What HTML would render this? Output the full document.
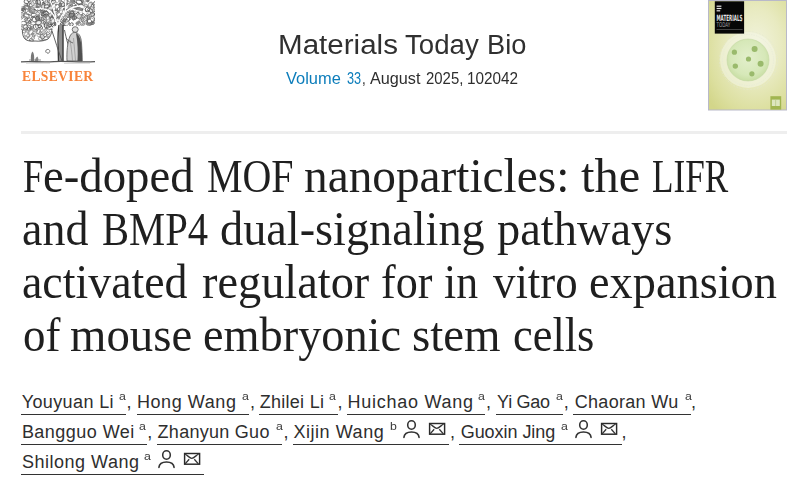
<!DOCTYPE html>
<html lang="en"><head><meta charset="utf-8"><title>Fe-doped MOF nanoparticles: the LIFR and BMP4 dual-signaling pathways activated regulator</title>
<style>
html,body{margin:0;padding:0;background:#fff;}
body{width:798px;height:482px;overflow:hidden;position:relative;font-family:"Liberation Sans",sans-serif;color:#2e2e2e;}
.abs,.an,.sp,.ul,.ic,.tl,#logo,#cover{position:absolute;white-space:nowrap;}
#logo{left:20px;top:0;}
#els{left:21.50px;top:68.27px;font-family:"Liberation Serif",serif;font-size:15.2px;color:#f8843b;letter-spacing:0.4px;font-weight:bold;line-height:1;transform-origin:0 0;transform:scaleX(0.8928);}
.jt,.vol{position:absolute;white-space:nowrap;transform-origin:0 0;line-height:1;}
.jt{font-size:27px;color:#303030;}
.vol{font-size:16px;color:#2e2e2e;}
.vol.lk{color:#0c7dbb;}
#cover{left:708px;top:0px;}
#sep{left:21px;top:131px;width:766px;height:3px;background:#eeeeee;}
.tl{transform-origin:0 0;font-family:"Liberation Serif",serif;font-size:47px;line-height:1;color:#1f1f1f;}
.an{font-size:18px;line-height:1;color:#2e2e2e;}
.sp{font-size:11px;line-height:1;color:#3a3a3a;transform-origin:0 0;transform:scaleX(1.12);}
.ul{display:block;height:1.6px;background:#333;}
.ic{overflow:visible;}
</style></head><body>
<svg id="logo" width="78" height="66" viewBox="0 0 78 66">
<defs><clipPath id="cp"><path d="M1.5 0 L75 0 L75 21 C75 24 72.5 25.5 69 25.5 L50 26 C46 26 42 25.5 38 25 C35 25.5 33 27 32 29 L1.5 30 Z"/></clipPath><clipPath id="cl"><path d="M2.5 29 C2 33 3 37 5 39 C7 41 11 41.5 15 41 C19 41.5 24 41 27 39.5 C30 38 31.5 34 32 29 Z"/></clipPath></defs>
<path d="M2.5 29 C2 33 3 37 5 39 C7 41 11 41.5 15 41 C19 41.5 24 41 27 39.5 C30 38 31.5 34 32 29 Z" fill="#fff"/>
<g clip-path="url(#cl)"><ellipse cx="7.3" cy="31.4" rx="2.1" ry="1.6" transform="rotate(85 7.3 31.4)" fill="#eeeeee" stroke="#888" stroke-width="0.56"/><ellipse cx="28.5" cy="40.3" rx="1.7" ry="1.1" transform="rotate(41 28.5 40.3)" fill="#ffffff" stroke="#888" stroke-width="0.76"/><ellipse cx="24.4" cy="39.0" rx="2.2" ry="1.7" transform="rotate(4 24.4 39.0)" fill="#ffffff" stroke="#6a6a6a" stroke-width="0.68"/><ellipse cx="24.9" cy="35.4" rx="2.0" ry="1.3" transform="rotate(143 24.9 35.4)" fill="#ffffff" stroke="#6a6a6a" stroke-width="0.77"/><ellipse cx="20.4" cy="36.2" rx="1.5" ry="0.9" transform="rotate(122 20.4 36.2)" fill="#d0d0d0" stroke="#5a5a5a" stroke-width="0.73"/><ellipse cx="8.6" cy="29.3" rx="1.7" ry="0.9" transform="rotate(166 8.6 29.3)" fill="#eeeeee" stroke="#6a6a6a" stroke-width="0.50"/><ellipse cx="12.9" cy="34.4" rx="1.6" ry="1.0" transform="rotate(29 12.9 34.4)" fill="#d0d0d0" stroke="#5a5a5a" stroke-width="0.70"/><ellipse cx="7.7" cy="36.1" rx="2.5" ry="1.9" transform="rotate(144 7.7 36.1)" fill="#ffffff" stroke="#6a6a6a" stroke-width="0.62"/><ellipse cx="13.7" cy="35.6" rx="2.0" ry="1.3" transform="rotate(96 13.7 35.6)" fill="#eeeeee" stroke="#5a5a5a" stroke-width="0.51"/><ellipse cx="11.0" cy="29.4" rx="2.4" ry="1.7" transform="rotate(51 11.0 29.4)" fill="#eeeeee" stroke="#5a5a5a" stroke-width="0.76"/><ellipse cx="27.1" cy="37.9" rx="2.2" ry="1.6" transform="rotate(82 27.1 37.9)" fill="#ffffff" stroke="#6a6a6a" stroke-width="0.76"/><ellipse cx="31.7" cy="40.9" rx="2.4" ry="1.4" transform="rotate(44 31.7 40.9)" fill="#d0d0d0" stroke="#6a6a6a" stroke-width="0.65"/><ellipse cx="11.3" cy="40.2" rx="2.0" ry="1.6" transform="rotate(14 11.3 40.2)" fill="#ffffff" stroke="#5a5a5a" stroke-width="0.76"/><ellipse cx="26.0" cy="38.3" rx="2.3" ry="1.5" transform="rotate(178 26.0 38.3)" fill="#ffffff" stroke="#6a6a6a" stroke-width="0.67"/><ellipse cx="7.2" cy="35.0" rx="2.5" ry="1.8" transform="rotate(39 7.2 35.0)" fill="#eeeeee" stroke="#6a6a6a" stroke-width="0.80"/><ellipse cx="29.7" cy="37.0" rx="1.4" ry="1.0" transform="rotate(166 29.7 37.0)" fill="#ffffff" stroke="#888" stroke-width="0.57"/><ellipse cx="11.3" cy="31.3" rx="2.5" ry="1.7" transform="rotate(176 11.3 31.3)" fill="#eeeeee" stroke="#5a5a5a" stroke-width="0.56"/><ellipse cx="25.9" cy="31.9" rx="1.6" ry="1.0" transform="rotate(131 25.9 31.9)" fill="#ffffff" stroke="#888" stroke-width="0.74"/><ellipse cx="21.0" cy="38.6" rx="2.5" ry="1.8" transform="rotate(177 21.0 38.6)" fill="#ffffff" stroke="#6a6a6a" stroke-width="0.60"/><ellipse cx="5.5" cy="29.1" rx="2.2" ry="1.7" transform="rotate(55 5.5 29.1)" fill="#eeeeee" stroke="#888" stroke-width="0.62"/><ellipse cx="21.4" cy="34.4" rx="2.2" ry="1.2" transform="rotate(106 21.4 34.4)" fill="#ffffff" stroke="#6a6a6a" stroke-width="0.70"/><ellipse cx="4.0" cy="31.4" rx="1.7" ry="1.0" transform="rotate(152 4.0 31.4)" fill="#ffffff" stroke="#888" stroke-width="0.79"/><ellipse cx="22.1" cy="37.2" rx="1.9" ry="1.4" transform="rotate(89 22.1 37.2)" fill="#d0d0d0" stroke="#5a5a5a" stroke-width="0.65"/><ellipse cx="13.5" cy="35.9" rx="1.5" ry="0.8" transform="rotate(177 13.5 35.9)" fill="#eeeeee" stroke="#6a6a6a" stroke-width="0.62"/><ellipse cx="30.3" cy="37.4" rx="2.1" ry="1.3" transform="rotate(2 30.3 37.4)" fill="#ffffff" stroke="#888" stroke-width="0.63"/><ellipse cx="16.5" cy="29.6" rx="2.1" ry="1.6" transform="rotate(23 16.5 29.6)" fill="#d0d0d0" stroke="#6a6a6a" stroke-width="0.57"/><ellipse cx="15.1" cy="33.9" rx="1.6" ry="1.0" transform="rotate(158 15.1 33.9)" fill="#ffffff" stroke="#6a6a6a" stroke-width="0.54"/><ellipse cx="6.9" cy="29.5" rx="1.4" ry="1.1" transform="rotate(69 6.9 29.5)" fill="#ffffff" stroke="#5a5a5a" stroke-width="0.54"/><ellipse cx="12.3" cy="41.9" rx="2.4" ry="1.7" transform="rotate(41 12.3 41.9)" fill="#ffffff" stroke="#5a5a5a" stroke-width="0.64"/><ellipse cx="15.1" cy="30.0" rx="2.0" ry="1.2" transform="rotate(149 15.1 30.0)" fill="#d0d0d0" stroke="#6a6a6a" stroke-width="0.54"/><ellipse cx="19.0" cy="35.6" rx="1.9" ry="1.2" transform="rotate(7 19.0 35.6)" fill="#ffffff" stroke="#888" stroke-width="0.56"/><ellipse cx="12.1" cy="29.1" rx="2.5" ry="1.7" transform="rotate(71 12.1 29.1)" fill="#eeeeee" stroke="#888" stroke-width="0.78"/><ellipse cx="6.0" cy="34.0" rx="2.2" ry="1.4" transform="rotate(127 6.0 34.0)" fill="#ffffff" stroke="#888" stroke-width="0.58"/><ellipse cx="10.9" cy="32.2" rx="2.6" ry="1.5" transform="rotate(132 10.9 32.2)" fill="#ffffff" stroke="#888" stroke-width="0.69"/><ellipse cx="28.0" cy="33.4" rx="1.7" ry="1.2" transform="rotate(22 28.0 33.4)" fill="#eeeeee" stroke="#6a6a6a" stroke-width="0.68"/><ellipse cx="22.3" cy="36.5" rx="2.5" ry="1.9" transform="rotate(50 22.3 36.5)" fill="#d0d0d0" stroke="#5a5a5a" stroke-width="0.70"/><ellipse cx="30.8" cy="30.9" rx="1.9" ry="1.3" transform="rotate(24 30.8 30.9)" fill="#ffffff" stroke="#888" stroke-width="0.63"/><ellipse cx="19.4" cy="31.7" rx="2.5" ry="1.6" transform="rotate(48 19.4 31.7)" fill="#ffffff" stroke="#888" stroke-width="0.58"/><ellipse cx="13.0" cy="38.0" rx="1.6" ry="1.2" transform="rotate(36 13.0 38.0)" fill="#eeeeee" stroke="#888" stroke-width="0.72"/><ellipse cx="5.5" cy="37.9" rx="2.2" ry="1.5" transform="rotate(84 5.5 37.9)" fill="#ffffff" stroke="#888" stroke-width="0.52"/><ellipse cx="23.5" cy="32.0" rx="2.0" ry="1.4" transform="rotate(154 23.5 32.0)" fill="#d0d0d0" stroke="#888" stroke-width="0.58"/><ellipse cx="18.9" cy="32.1" rx="2.3" ry="1.7" transform="rotate(97 18.9 32.1)" fill="#ffffff" stroke="#888" stroke-width="0.77"/><ellipse cx="21.7" cy="41.5" rx="1.6" ry="1.1" transform="rotate(123 21.7 41.5)" fill="#d0d0d0" stroke="#6a6a6a" stroke-width="0.75"/><ellipse cx="18.4" cy="31.5" rx="2.2" ry="1.4" transform="rotate(116 18.4 31.5)" fill="#ffffff" stroke="#6a6a6a" stroke-width="0.78"/><ellipse cx="6.2" cy="37.8" rx="1.7" ry="1.0" transform="rotate(82 6.2 37.8)" fill="#ffffff" stroke="#6a6a6a" stroke-width="0.52"/></g>
<path d="M2.5 29 C2 33 3 37 5 39 C7 41 11 41.5 15 41 C19 41.5 24 41 27 39.5 C30 38 31.5 34 32 29 Z" fill="none" stroke="#555" stroke-width="0.9"/>
<g clip-path="url(#cp)"><rect x="0" y="0" width="78" height="32" fill="#fff"/><ellipse cx="34.4" cy="16.9" rx="2.7" ry="1.8" transform="rotate(91 34.4 16.9)" fill="#ffffff" stroke="#808080" stroke-width="0.56"/><ellipse cx="38.9" cy="19.2" rx="2.5" ry="1.4" transform="rotate(55 38.9 19.2)" fill="#b8b8b8" stroke="#3a3a3a" stroke-width="0.74"/><ellipse cx="52.7" cy="0.3" rx="2.8" ry="2.2" transform="rotate(118 52.7 0.3)" fill="#8c8c8c" stroke="#808080" stroke-width="0.55"/><ellipse cx="1.1" cy="15.9" rx="1.4" ry="0.8" transform="rotate(44 1.1 15.9)" fill="#dcdcdc" stroke="#3a3a3a" stroke-width="0.60"/><ellipse cx="44.9" cy="5.3" rx="1.7" ry="1.0" transform="rotate(1 44.9 5.3)" fill="#dcdcdc" stroke="#3a3a3a" stroke-width="0.70"/><ellipse cx="30.9" cy="16.6" rx="2.7" ry="1.5" transform="rotate(46 30.9 16.6)" fill="#b8b8b8" stroke="#4a4a4a" stroke-width="0.59"/><ellipse cx="5.3" cy="23.5" rx="1.9" ry="1.4" transform="rotate(70 5.3 23.5)" fill="#8c8c8c" stroke="#3a3a3a" stroke-width="0.50"/><ellipse cx="15.9" cy="28.1" rx="2.0" ry="1.6" transform="rotate(72 15.9 28.1)" fill="#b8b8b8" stroke="#3a3a3a" stroke-width="0.69"/><ellipse cx="59.2" cy="7.6" rx="1.4" ry="0.9" transform="rotate(174 59.2 7.6)" fill="#ffffff" stroke="#3a3a3a" stroke-width="0.57"/><ellipse cx="7.7" cy="0.9" rx="2.5" ry="1.5" transform="rotate(101 7.7 0.9)" fill="#b8b8b8" stroke="#6a6a6a" stroke-width="0.56"/><ellipse cx="55.6" cy="3.2" rx="2.3" ry="1.3" transform="rotate(76 55.6 3.2)" fill="#ffffff" stroke="#4a4a4a" stroke-width="0.58"/><ellipse cx="73.8" cy="24.7" rx="1.8" ry="1.4" transform="rotate(38 73.8 24.7)" fill="#b8b8b8" stroke="#6a6a6a" stroke-width="0.69"/><ellipse cx="7.6" cy="30.7" rx="1.6" ry="1.0" transform="rotate(139 7.6 30.7)" fill="#f0f0f0" stroke="#5a5a5a" stroke-width="0.62"/><ellipse cx="5.6" cy="5.7" rx="2.3" ry="1.2" transform="rotate(66 5.6 5.7)" fill="#dcdcdc" stroke="#808080" stroke-width="0.54"/><ellipse cx="44.6" cy="25.6" rx="1.5" ry="1.0" transform="rotate(113 44.6 25.6)" fill="#ffffff" stroke="#5a5a5a" stroke-width="0.75"/><ellipse cx="19.0" cy="5.1" rx="2.4" ry="1.9" transform="rotate(35 19.0 5.1)" fill="#dcdcdc" stroke="#6a6a6a" stroke-width="0.68"/><ellipse cx="32.0" cy="2.3" rx="1.4" ry="1.1" transform="rotate(43 32.0 2.3)" fill="#f0f0f0" stroke="#6a6a6a" stroke-width="0.63"/><ellipse cx="68.8" cy="14.7" rx="2.1" ry="1.6" transform="rotate(176 68.8 14.7)" fill="#ffffff" stroke="#4a4a4a" stroke-width="0.64"/><ellipse cx="49.7" cy="18.7" rx="1.4" ry="0.9" transform="rotate(165 49.7 18.7)" fill="#ffffff" stroke="#3a3a3a" stroke-width="0.58"/><ellipse cx="33.9" cy="0.9" rx="1.6" ry="1.0" transform="rotate(103 33.9 0.9)" fill="#ffffff" stroke="#4a4a4a" stroke-width="0.61"/><ellipse cx="67.7" cy="30.4" rx="2.3" ry="1.7" transform="rotate(105 67.7 30.4)" fill="#b8b8b8" stroke="#4a4a4a" stroke-width="0.51"/><ellipse cx="1.4" cy="28.1" rx="2.4" ry="1.9" transform="rotate(4 1.4 28.1)" fill="#dcdcdc" stroke="#3a3a3a" stroke-width="0.52"/><ellipse cx="23.6" cy="3.4" rx="1.4" ry="0.9" transform="rotate(66 23.6 3.4)" fill="#8c8c8c" stroke="#3a3a3a" stroke-width="0.72"/><ellipse cx="9.8" cy="29.8" rx="1.8" ry="1.0" transform="rotate(85 9.8 29.8)" fill="#dcdcdc" stroke="#3a3a3a" stroke-width="0.78"/><ellipse cx="2.3" cy="15.0" rx="1.3" ry="0.9" transform="rotate(68 2.3 15.0)" fill="#b8b8b8" stroke="#3a3a3a" stroke-width="0.52"/><ellipse cx="6.9" cy="2.7" rx="1.7" ry="1.1" transform="rotate(59 6.9 2.7)" fill="#dcdcdc" stroke="#808080" stroke-width="0.63"/><ellipse cx="63.7" cy="1.7" rx="2.4" ry="1.4" transform="rotate(108 63.7 1.7)" fill="#ffffff" stroke="#6a6a6a" stroke-width="0.57"/><ellipse cx="53.1" cy="14.9" rx="2.2" ry="1.7" transform="rotate(46 53.1 14.9)" fill="#f0f0f0" stroke="#3a3a3a" stroke-width="0.59"/><ellipse cx="51.5" cy="5.5" rx="1.6" ry="1.2" transform="rotate(119 51.5 5.5)" fill="#dcdcdc" stroke="#6a6a6a" stroke-width="0.77"/><ellipse cx="24.8" cy="20.3" rx="1.6" ry="1.1" transform="rotate(145 24.8 20.3)" fill="#ffffff" stroke="#4a4a4a" stroke-width="0.62"/><ellipse cx="44.3" cy="9.1" rx="1.5" ry="1.0" transform="rotate(151 44.3 9.1)" fill="#8c8c8c" stroke="#3a3a3a" stroke-width="0.52"/><ellipse cx="74.5" cy="25.3" rx="1.5" ry="1.0" transform="rotate(167 74.5 25.3)" fill="#dcdcdc" stroke="#6a6a6a" stroke-width="0.69"/><ellipse cx="37.5" cy="9.1" rx="2.6" ry="2.0" transform="rotate(81 37.5 9.1)" fill="#ffffff" stroke="#3a3a3a" stroke-width="0.58"/><ellipse cx="46.2" cy="20.7" rx="1.7" ry="1.1" transform="rotate(117 46.2 20.7)" fill="#ffffff" stroke="#808080" stroke-width="0.69"/><ellipse cx="30.8" cy="5.1" rx="2.5" ry="1.5" transform="rotate(140 30.8 5.1)" fill="#8c8c8c" stroke="#3a3a3a" stroke-width="0.53"/><ellipse cx="8.3" cy="16.1" rx="2.3" ry="1.5" transform="rotate(14 8.3 16.1)" fill="#ffffff" stroke="#4a4a4a" stroke-width="0.75"/><ellipse cx="19.5" cy="21.9" rx="2.4" ry="1.7" transform="rotate(7 19.5 21.9)" fill="#f0f0f0" stroke="#4a4a4a" stroke-width="0.73"/><ellipse cx="41.0" cy="29.3" rx="2.1" ry="1.6" transform="rotate(29 41.0 29.3)" fill="#ffffff" stroke="#4a4a4a" stroke-width="0.62"/><ellipse cx="67.8" cy="11.4" rx="2.0" ry="1.2" transform="rotate(160 67.8 11.4)" fill="#dcdcdc" stroke="#3a3a3a" stroke-width="0.67"/><ellipse cx="49.6" cy="15.1" rx="2.5" ry="1.6" transform="rotate(59 49.6 15.1)" fill="#ffffff" stroke="#4a4a4a" stroke-width="0.72"/><ellipse cx="62.2" cy="19.5" rx="2.4" ry="1.4" transform="rotate(162 62.2 19.5)" fill="#f0f0f0" stroke="#3a3a3a" stroke-width="0.66"/><ellipse cx="60.1" cy="9.3" rx="2.7" ry="2.0" transform="rotate(63 60.1 9.3)" fill="#ffffff" stroke="#3a3a3a" stroke-width="0.63"/><ellipse cx="41.8" cy="23.6" rx="2.0" ry="1.1" transform="rotate(146 41.8 23.6)" fill="#dcdcdc" stroke="#3a3a3a" stroke-width="0.74"/><ellipse cx="13.1" cy="9.7" rx="2.5" ry="1.5" transform="rotate(27 13.1 9.7)" fill="#8c8c8c" stroke="#808080" stroke-width="0.66"/><ellipse cx="51.5" cy="13.1" rx="2.6" ry="1.8" transform="rotate(124 51.5 13.1)" fill="#dcdcdc" stroke="#4a4a4a" stroke-width="0.66"/><ellipse cx="22.1" cy="22.3" rx="2.3" ry="1.5" transform="rotate(152 22.1 22.3)" fill="#f0f0f0" stroke="#808080" stroke-width="0.59"/><ellipse cx="29.0" cy="26.0" rx="2.7" ry="1.6" transform="rotate(153 29.0 26.0)" fill="#b8b8b8" stroke="#808080" stroke-width="0.58"/><ellipse cx="37.8" cy="12.2" rx="1.5" ry="0.8" transform="rotate(68 37.8 12.2)" fill="#ffffff" stroke="#808080" stroke-width="0.65"/><ellipse cx="30.4" cy="24.6" rx="2.1" ry="1.4" transform="rotate(124 30.4 24.6)" fill="#b8b8b8" stroke="#3a3a3a" stroke-width="0.64"/><ellipse cx="70.0" cy="24.6" rx="1.9" ry="1.2" transform="rotate(89 70.0 24.6)" fill="#dcdcdc" stroke="#5a5a5a" stroke-width="0.77"/><ellipse cx="71.1" cy="28.4" rx="2.1" ry="1.2" transform="rotate(76 71.1 28.4)" fill="#f0f0f0" stroke="#3a3a3a" stroke-width="0.54"/><ellipse cx="59.2" cy="-0.3" rx="1.6" ry="1.0" transform="rotate(124 59.2 -0.3)" fill="#8c8c8c" stroke="#5a5a5a" stroke-width="0.61"/><ellipse cx="47.1" cy="2.4" rx="2.4" ry="1.4" transform="rotate(92 47.1 2.4)" fill="#8c8c8c" stroke="#5a5a5a" stroke-width="0.56"/><ellipse cx="40.3" cy="13.0" rx="1.9" ry="1.2" transform="rotate(95 40.3 13.0)" fill="#b8b8b8" stroke="#4a4a4a" stroke-width="0.56"/><ellipse cx="48.0" cy="19.4" rx="2.1" ry="1.6" transform="rotate(110 48.0 19.4)" fill="#ffffff" stroke="#4a4a4a" stroke-width="0.77"/><ellipse cx="47.7" cy="10.1" rx="1.6" ry="1.1" transform="rotate(160 47.7 10.1)" fill="#ffffff" stroke="#4a4a4a" stroke-width="0.73"/><ellipse cx="14.8" cy="2.1" rx="2.6" ry="1.5" transform="rotate(16 14.8 2.1)" fill="#ffffff" stroke="#6a6a6a" stroke-width="0.63"/><ellipse cx="71.5" cy="16.4" rx="2.4" ry="1.4" transform="rotate(113 71.5 16.4)" fill="#ffffff" stroke="#3a3a3a" stroke-width="0.56"/><ellipse cx="51.9" cy="28.2" rx="2.8" ry="1.6" transform="rotate(91 51.9 28.2)" fill="#b8b8b8" stroke="#5a5a5a" stroke-width="0.80"/><ellipse cx="63.3" cy="24.7" rx="2.0" ry="1.1" transform="rotate(137 63.3 24.7)" fill="#b8b8b8" stroke="#808080" stroke-width="0.77"/><ellipse cx="36.6" cy="5.1" rx="1.5" ry="0.9" transform="rotate(28 36.6 5.1)" fill="#8c8c8c" stroke="#5a5a5a" stroke-width="0.53"/><ellipse cx="4.7" cy="29.4" rx="2.0" ry="1.5" transform="rotate(59 4.7 29.4)" fill="#dcdcdc" stroke="#6a6a6a" stroke-width="0.65"/><ellipse cx="32.7" cy="18.2" rx="1.3" ry="1.0" transform="rotate(152 32.7 18.2)" fill="#dcdcdc" stroke="#4a4a4a" stroke-width="0.64"/><ellipse cx="56.2" cy="12.0" rx="1.6" ry="0.9" transform="rotate(92 56.2 12.0)" fill="#f0f0f0" stroke="#3a3a3a" stroke-width="0.77"/><ellipse cx="60.9" cy="21.5" rx="2.6" ry="1.8" transform="rotate(73 60.9 21.5)" fill="#ffffff" stroke="#808080" stroke-width="0.65"/><ellipse cx="74.7" cy="24.8" rx="1.7" ry="1.3" transform="rotate(134 74.7 24.8)" fill="#dcdcdc" stroke="#4a4a4a" stroke-width="0.54"/><ellipse cx="25.1" cy="16.2" rx="1.9" ry="1.2" transform="rotate(33 25.1 16.2)" fill="#8c8c8c" stroke="#4a4a4a" stroke-width="0.56"/><ellipse cx="60.6" cy="8.7" rx="1.5" ry="1.1" transform="rotate(178 60.6 8.7)" fill="#ffffff" stroke="#808080" stroke-width="0.57"/><ellipse cx="71.8" cy="20.3" rx="1.8" ry="1.3" transform="rotate(103 71.8 20.3)" fill="#ffffff" stroke="#808080" stroke-width="0.62"/><ellipse cx="76.0" cy="19.6" rx="2.4" ry="1.7" transform="rotate(176 76.0 19.6)" fill="#ffffff" stroke="#3a3a3a" stroke-width="0.68"/><ellipse cx="56.1" cy="7.2" rx="1.9" ry="1.1" transform="rotate(35 56.1 7.2)" fill="#ffffff" stroke="#6a6a6a" stroke-width="0.53"/><ellipse cx="19.1" cy="28.0" rx="2.1" ry="1.4" transform="rotate(174 19.1 28.0)" fill="#ffffff" stroke="#808080" stroke-width="0.69"/><ellipse cx="61.5" cy="1.4" rx="2.2" ry="1.6" transform="rotate(8 61.5 1.4)" fill="#dcdcdc" stroke="#4a4a4a" stroke-width="0.64"/><ellipse cx="12.9" cy="14.9" rx="2.2" ry="1.3" transform="rotate(170 12.9 14.9)" fill="#f0f0f0" stroke="#6a6a6a" stroke-width="0.66"/><ellipse cx="45.4" cy="10.7" rx="1.7" ry="1.2" transform="rotate(101 45.4 10.7)" fill="#8c8c8c" stroke="#5a5a5a" stroke-width="0.71"/><ellipse cx="22.5" cy="-0.6" rx="1.7" ry="0.9" transform="rotate(28 22.5 -0.6)" fill="#ffffff" stroke="#6a6a6a" stroke-width="0.77"/><ellipse cx="56.9" cy="0.6" rx="2.8" ry="2.2" transform="rotate(13 56.9 0.6)" fill="#dcdcdc" stroke="#4a4a4a" stroke-width="0.72"/><ellipse cx="19.1" cy="23.2" rx="1.4" ry="0.8" transform="rotate(146 19.1 23.2)" fill="#ffffff" stroke="#6a6a6a" stroke-width="0.79"/><ellipse cx="62.1" cy="18.3" rx="1.5" ry="1.0" transform="rotate(82 62.1 18.3)" fill="#ffffff" stroke="#4a4a4a" stroke-width="0.61"/><ellipse cx="11.8" cy="10.6" rx="1.5" ry="1.0" transform="rotate(108 11.8 10.6)" fill="#8c8c8c" stroke="#808080" stroke-width="0.63"/><ellipse cx="59.1" cy="16.0" rx="2.8" ry="2.2" transform="rotate(132 59.1 16.0)" fill="#dcdcdc" stroke="#4a4a4a" stroke-width="0.53"/><ellipse cx="67.8" cy="24.1" rx="2.2" ry="1.4" transform="rotate(49 67.8 24.1)" fill="#8c8c8c" stroke="#808080" stroke-width="0.68"/><ellipse cx="48.1" cy="23.1" rx="1.6" ry="1.0" transform="rotate(176 48.1 23.1)" fill="#8c8c8c" stroke="#4a4a4a" stroke-width="0.51"/><ellipse cx="4.6" cy="7.7" rx="1.9" ry="1.4" transform="rotate(18 4.6 7.7)" fill="#f0f0f0" stroke="#808080" stroke-width="0.52"/><ellipse cx="6.6" cy="20.6" rx="2.1" ry="1.5" transform="rotate(67 6.6 20.6)" fill="#f0f0f0" stroke="#6a6a6a" stroke-width="0.56"/><ellipse cx="26.1" cy="22.8" rx="2.6" ry="1.5" transform="rotate(22 26.1 22.8)" fill="#ffffff" stroke="#808080" stroke-width="0.63"/><ellipse cx="56.8" cy="11.5" rx="1.5" ry="0.9" transform="rotate(151 56.8 11.5)" fill="#f0f0f0" stroke="#808080" stroke-width="0.59"/><ellipse cx="57.7" cy="25.4" rx="1.6" ry="1.1" transform="rotate(105 57.7 25.4)" fill="#f0f0f0" stroke="#6a6a6a" stroke-width="0.52"/><ellipse cx="6.3" cy="17.1" rx="2.0" ry="1.5" transform="rotate(54 6.3 17.1)" fill="#ffffff" stroke="#3a3a3a" stroke-width="0.59"/><ellipse cx="69.2" cy="18.3" rx="2.3" ry="1.6" transform="rotate(138 69.2 18.3)" fill="#f0f0f0" stroke="#5a5a5a" stroke-width="0.76"/><ellipse cx="16.6" cy="20.0" rx="1.8" ry="1.4" transform="rotate(58 16.6 20.0)" fill="#b8b8b8" stroke="#6a6a6a" stroke-width="0.68"/><ellipse cx="68.6" cy="21.0" rx="1.7" ry="1.2" transform="rotate(179 68.6 21.0)" fill="#f0f0f0" stroke="#6a6a6a" stroke-width="0.57"/><ellipse cx="73.6" cy="22.4" rx="2.1" ry="1.2" transform="rotate(149 73.6 22.4)" fill="#f0f0f0" stroke="#3a3a3a" stroke-width="0.70"/><ellipse cx="44.4" cy="24.5" rx="2.4" ry="1.5" transform="rotate(70 44.4 24.5)" fill="#b8b8b8" stroke="#4a4a4a" stroke-width="0.67"/><ellipse cx="13.4" cy="23.3" rx="2.6" ry="1.6" transform="rotate(4 13.4 23.3)" fill="#ffffff" stroke="#808080" stroke-width="0.66"/><ellipse cx="43.1" cy="29.9" rx="2.3" ry="1.7" transform="rotate(12 43.1 29.9)" fill="#f0f0f0" stroke="#808080" stroke-width="0.74"/><ellipse cx="6.4" cy="1.6" rx="2.4" ry="1.9" transform="rotate(15 6.4 1.6)" fill="#ffffff" stroke="#4a4a4a" stroke-width="0.72"/><ellipse cx="49.3" cy="6.9" rx="1.6" ry="1.2" transform="rotate(94 49.3 6.9)" fill="#dcdcdc" stroke="#6a6a6a" stroke-width="0.61"/><ellipse cx="61.4" cy="9.7" rx="1.5" ry="1.0" transform="rotate(145 61.4 9.7)" fill="#8c8c8c" stroke="#3a3a3a" stroke-width="0.69"/><ellipse cx="3.5" cy="23.2" rx="2.8" ry="1.8" transform="rotate(1 3.5 23.2)" fill="#ffffff" stroke="#6a6a6a" stroke-width="0.77"/><ellipse cx="72.8" cy="19.5" rx="2.1" ry="1.5" transform="rotate(144 72.8 19.5)" fill="#dcdcdc" stroke="#6a6a6a" stroke-width="0.77"/><ellipse cx="18.7" cy="4.2" rx="2.3" ry="1.6" transform="rotate(58 18.7 4.2)" fill="#dcdcdc" stroke="#6a6a6a" stroke-width="0.66"/><ellipse cx="20.8" cy="27.4" rx="2.0" ry="1.5" transform="rotate(55 20.8 27.4)" fill="#ffffff" stroke="#4a4a4a" stroke-width="0.77"/><ellipse cx="57.2" cy="-0.5" rx="2.0" ry="1.5" transform="rotate(56 57.2 -0.5)" fill="#ffffff" stroke="#4a4a4a" stroke-width="0.61"/><ellipse cx="44.7" cy="18.2" rx="2.0" ry="1.4" transform="rotate(80 44.7 18.2)" fill="#dcdcdc" stroke="#5a5a5a" stroke-width="0.55"/><ellipse cx="57.6" cy="9.0" rx="2.1" ry="1.6" transform="rotate(86 57.6 9.0)" fill="#dcdcdc" stroke="#5a5a5a" stroke-width="0.77"/><ellipse cx="69.5" cy="9.9" rx="2.1" ry="1.7" transform="rotate(87 69.5 9.9)" fill="#dcdcdc" stroke="#4a4a4a" stroke-width="0.51"/><ellipse cx="72.0" cy="24.6" rx="1.9" ry="1.3" transform="rotate(93 72.0 24.6)" fill="#ffffff" stroke="#5a5a5a" stroke-width="0.70"/><ellipse cx="18.1" cy="-0.7" rx="2.0" ry="1.3" transform="rotate(143 18.1 -0.7)" fill="#b8b8b8" stroke="#6a6a6a" stroke-width="0.76"/><ellipse cx="31.6" cy="23.7" rx="1.5" ry="1.2" transform="rotate(146 31.6 23.7)" fill="#8c8c8c" stroke="#4a4a4a" stroke-width="0.72"/><ellipse cx="47.1" cy="15.5" rx="1.4" ry="1.0" transform="rotate(32 47.1 15.5)" fill="#ffffff" stroke="#4a4a4a" stroke-width="0.75"/><ellipse cx="6.3" cy="7.6" rx="2.4" ry="1.4" transform="rotate(86 6.3 7.6)" fill="#ffffff" stroke="#6a6a6a" stroke-width="0.79"/><ellipse cx="44.6" cy="26.4" rx="1.8" ry="1.3" transform="rotate(75 44.6 26.4)" fill="#dcdcdc" stroke="#3a3a3a" stroke-width="0.56"/><ellipse cx="41.3" cy="15.8" rx="1.5" ry="1.2" transform="rotate(56 41.3 15.8)" fill="#dcdcdc" stroke="#5a5a5a" stroke-width="0.52"/><ellipse cx="23.2" cy="14.0" rx="2.4" ry="1.5" transform="rotate(124 23.2 14.0)" fill="#8c8c8c" stroke="#3a3a3a" stroke-width="0.62"/><ellipse cx="35.1" cy="29.9" rx="2.5" ry="1.8" transform="rotate(2 35.1 29.9)" fill="#8c8c8c" stroke="#6a6a6a" stroke-width="0.71"/><ellipse cx="18.0" cy="17.1" rx="2.0" ry="1.1" transform="rotate(178 18.0 17.1)" fill="#b8b8b8" stroke="#4a4a4a" stroke-width="0.55"/><ellipse cx="47.7" cy="29.0" rx="2.4" ry="1.9" transform="rotate(136 47.7 29.0)" fill="#8c8c8c" stroke="#808080" stroke-width="0.53"/><ellipse cx="14.3" cy="11.0" rx="1.5" ry="0.9" transform="rotate(49 14.3 11.0)" fill="#8c8c8c" stroke="#6a6a6a" stroke-width="0.69"/><ellipse cx="34.0" cy="11.2" rx="1.5" ry="1.0" transform="rotate(24 34.0 11.2)" fill="#ffffff" stroke="#4a4a4a" stroke-width="0.56"/><ellipse cx="2.8" cy="13.8" rx="2.4" ry="1.4" transform="rotate(6 2.8 13.8)" fill="#dcdcdc" stroke="#3a3a3a" stroke-width="0.62"/><ellipse cx="5.5" cy="28.5" rx="1.9" ry="1.3" transform="rotate(117 5.5 28.5)" fill="#8c8c8c" stroke="#4a4a4a" stroke-width="0.62"/><ellipse cx="25.2" cy="12.2" rx="1.3" ry="0.9" transform="rotate(126 25.2 12.2)" fill="#8c8c8c" stroke="#4a4a4a" stroke-width="0.80"/><ellipse cx="40.3" cy="7.3" rx="1.6" ry="1.0" transform="rotate(79 40.3 7.3)" fill="#dcdcdc" stroke="#808080" stroke-width="0.56"/><ellipse cx="25.3" cy="8.4" rx="1.5" ry="1.1" transform="rotate(46 25.3 8.4)" fill="#f0f0f0" stroke="#808080" stroke-width="0.66"/><ellipse cx="26.8" cy="15.0" rx="1.5" ry="1.1" transform="rotate(178 26.8 15.0)" fill="#8c8c8c" stroke="#808080" stroke-width="0.71"/><ellipse cx="71.1" cy="17.2" rx="1.3" ry="1.0" transform="rotate(140 71.1 17.2)" fill="#ffffff" stroke="#4a4a4a" stroke-width="0.64"/><ellipse cx="31.7" cy="9.7" rx="1.4" ry="1.1" transform="rotate(48 31.7 9.7)" fill="#dcdcdc" stroke="#3a3a3a" stroke-width="0.79"/><ellipse cx="10.3" cy="27.9" rx="2.1" ry="1.5" transform="rotate(101 10.3 27.9)" fill="#ffffff" stroke="#5a5a5a" stroke-width="0.77"/><ellipse cx="75.4" cy="25.2" rx="2.2" ry="1.3" transform="rotate(148 75.4 25.2)" fill="#8c8c8c" stroke="#5a5a5a" stroke-width="0.77"/><ellipse cx="18.3" cy="17.4" rx="2.5" ry="1.5" transform="rotate(99 18.3 17.4)" fill="#dcdcdc" stroke="#3a3a3a" stroke-width="0.51"/><ellipse cx="13.7" cy="30.6" rx="2.7" ry="1.9" transform="rotate(55 13.7 30.6)" fill="#b8b8b8" stroke="#6a6a6a" stroke-width="0.68"/><ellipse cx="61.1" cy="-0.5" rx="1.6" ry="1.1" transform="rotate(26 61.1 -0.5)" fill="#ffffff" stroke="#6a6a6a" stroke-width="0.67"/><ellipse cx="13.2" cy="15.6" rx="1.7" ry="1.2" transform="rotate(60 13.2 15.6)" fill="#8c8c8c" stroke="#3a3a3a" stroke-width="0.70"/><ellipse cx="11.0" cy="29.7" rx="2.2" ry="1.5" transform="rotate(74 11.0 29.7)" fill="#8c8c8c" stroke="#808080" stroke-width="0.67"/><ellipse cx="30.9" cy="8.0" rx="2.6" ry="1.8" transform="rotate(163 30.9 8.0)" fill="#dcdcdc" stroke="#6a6a6a" stroke-width="0.54"/><ellipse cx="8.7" cy="29.0" rx="1.8" ry="1.2" transform="rotate(76 8.7 29.0)" fill="#f0f0f0" stroke="#3a3a3a" stroke-width="0.77"/><ellipse cx="22.5" cy="18.7" rx="1.9" ry="1.3" transform="rotate(58 22.5 18.7)" fill="#b8b8b8" stroke="#5a5a5a" stroke-width="0.76"/><ellipse cx="18.6" cy="26.0" rx="1.7" ry="1.3" transform="rotate(175 18.6 26.0)" fill="#8c8c8c" stroke="#6a6a6a" stroke-width="0.53"/><ellipse cx="69.2" cy="16.4" rx="2.3" ry="1.8" transform="rotate(158 69.2 16.4)" fill="#b8b8b8" stroke="#5a5a5a" stroke-width="0.63"/><ellipse cx="61.2" cy="6.1" rx="2.4" ry="1.7" transform="rotate(163 61.2 6.1)" fill="#b8b8b8" stroke="#3a3a3a" stroke-width="0.74"/><ellipse cx="9.4" cy="16.2" rx="2.7" ry="1.5" transform="rotate(44 9.4 16.2)" fill="#ffffff" stroke="#5a5a5a" stroke-width="0.60"/><ellipse cx="4.8" cy="27.6" rx="2.5" ry="1.6" transform="rotate(64 4.8 27.6)" fill="#ffffff" stroke="#808080" stroke-width="0.51"/><ellipse cx="2.4" cy="27.8" rx="1.8" ry="1.2" transform="rotate(168 2.4 27.8)" fill="#ffffff" stroke="#6a6a6a" stroke-width="0.56"/><ellipse cx="65.3" cy="21.2" rx="1.4" ry="0.9" transform="rotate(155 65.3 21.2)" fill="#ffffff" stroke="#6a6a6a" stroke-width="0.55"/><ellipse cx="66.9" cy="30.9" rx="1.6" ry="1.1" transform="rotate(34 66.9 30.9)" fill="#8c8c8c" stroke="#3a3a3a" stroke-width="0.53"/><ellipse cx="55.2" cy="9.0" rx="2.7" ry="2.0" transform="rotate(128 55.2 9.0)" fill="#f0f0f0" stroke="#4a4a4a" stroke-width="0.71"/><ellipse cx="71.3" cy="13.2" rx="1.4" ry="0.9" transform="rotate(55 71.3 13.2)" fill="#f0f0f0" stroke="#4a4a4a" stroke-width="0.55"/><ellipse cx="17.9" cy="20.3" rx="2.5" ry="1.6" transform="rotate(119 17.9 20.3)" fill="#b8b8b8" stroke="#3a3a3a" stroke-width="0.65"/><ellipse cx="74.3" cy="27.7" rx="1.6" ry="1.0" transform="rotate(24 74.3 27.7)" fill="#dcdcdc" stroke="#3a3a3a" stroke-width="0.79"/><ellipse cx="33.5" cy="15.9" rx="2.1" ry="1.2" transform="rotate(108 33.5 15.9)" fill="#b8b8b8" stroke="#5a5a5a" stroke-width="0.58"/><ellipse cx="61.0" cy="1.8" rx="1.7" ry="1.3" transform="rotate(44 61.0 1.8)" fill="#8c8c8c" stroke="#5a5a5a" stroke-width="0.66"/><ellipse cx="14.2" cy="27.7" rx="2.8" ry="1.6" transform="rotate(83 14.2 27.7)" fill="#dcdcdc" stroke="#808080" stroke-width="0.50"/><ellipse cx="67.8" cy="0.9" rx="1.4" ry="1.0" transform="rotate(164 67.8 0.9)" fill="#8c8c8c" stroke="#5a5a5a" stroke-width="0.65"/><ellipse cx="2.4" cy="8.3" rx="2.5" ry="1.8" transform="rotate(177 2.4 8.3)" fill="#ffffff" stroke="#808080" stroke-width="0.68"/><ellipse cx="58.6" cy="2.6" rx="2.0" ry="1.4" transform="rotate(99 58.6 2.6)" fill="#8c8c8c" stroke="#5a5a5a" stroke-width="0.74"/><ellipse cx="17.9" cy="14.7" rx="1.6" ry="1.1" transform="rotate(90 17.9 14.7)" fill="#ffffff" stroke="#3a3a3a" stroke-width="0.68"/><ellipse cx="54.3" cy="17.3" rx="2.6" ry="1.6" transform="rotate(27 54.3 17.3)" fill="#b8b8b8" stroke="#3a3a3a" stroke-width="0.65"/><ellipse cx="33.0" cy="13.1" rx="1.7" ry="1.3" transform="rotate(13 33.0 13.1)" fill="#b8b8b8" stroke="#4a4a4a" stroke-width="0.69"/><ellipse cx="44.0" cy="22.1" rx="2.2" ry="1.3" transform="rotate(77 44.0 22.1)" fill="#b8b8b8" stroke="#5a5a5a" stroke-width="0.72"/><ellipse cx="59.3" cy="23.5" rx="2.0" ry="1.5" transform="rotate(92 59.3 23.5)" fill="#f0f0f0" stroke="#6a6a6a" stroke-width="0.57"/><ellipse cx="37.8" cy="20.1" rx="2.2" ry="1.5" transform="rotate(57 37.8 20.1)" fill="#f0f0f0" stroke="#6a6a6a" stroke-width="0.71"/><ellipse cx="53.5" cy="29.6" rx="1.5" ry="1.1" transform="rotate(108 53.5 29.6)" fill="#ffffff" stroke="#4a4a4a" stroke-width="0.72"/><ellipse cx="39.6" cy="30.5" rx="1.3" ry="0.9" transform="rotate(95 39.6 30.5)" fill="#dcdcdc" stroke="#3a3a3a" stroke-width="0.67"/><ellipse cx="35.9" cy="28.9" rx="2.8" ry="2.0" transform="rotate(129 35.9 28.9)" fill="#ffffff" stroke="#808080" stroke-width="0.59"/><ellipse cx="9.0" cy="26.4" rx="1.9" ry="1.1" transform="rotate(41 9.0 26.4)" fill="#f0f0f0" stroke="#5a5a5a" stroke-width="0.78"/><ellipse cx="70.2" cy="6.0" rx="1.5" ry="1.1" transform="rotate(179 70.2 6.0)" fill="#b8b8b8" stroke="#5a5a5a" stroke-width="0.71"/><ellipse cx="65.7" cy="17.9" rx="2.6" ry="1.8" transform="rotate(71 65.7 17.9)" fill="#dcdcdc" stroke="#4a4a4a" stroke-width="0.61"/><ellipse cx="3.7" cy="12.4" rx="1.7" ry="1.2" transform="rotate(145 3.7 12.4)" fill="#ffffff" stroke="#6a6a6a" stroke-width="0.62"/><ellipse cx="45.1" cy="23.3" rx="2.0" ry="1.4" transform="rotate(113 45.1 23.3)" fill="#dcdcdc" stroke="#4a4a4a" stroke-width="0.56"/><ellipse cx="29.1" cy="1.3" rx="2.3" ry="1.5" transform="rotate(49 29.1 1.3)" fill="#b8b8b8" stroke="#3a3a3a" stroke-width="0.55"/><ellipse cx="19.9" cy="11.6" rx="2.7" ry="2.0" transform="rotate(48 19.9 11.6)" fill="#ffffff" stroke="#5a5a5a" stroke-width="0.55"/><ellipse cx="71.2" cy="10.5" rx="2.4" ry="1.8" transform="rotate(163 71.2 10.5)" fill="#f0f0f0" stroke="#3a3a3a" stroke-width="0.75"/><ellipse cx="34.2" cy="26.3" rx="1.9" ry="1.1" transform="rotate(158 34.2 26.3)" fill="#f0f0f0" stroke="#3a3a3a" stroke-width="0.62"/><ellipse cx="18.1" cy="0.3" rx="1.5" ry="1.1" transform="rotate(6 18.1 0.3)" fill="#dcdcdc" stroke="#5a5a5a" stroke-width="0.63"/><ellipse cx="41.3" cy="3.4" rx="2.4" ry="1.5" transform="rotate(131 41.3 3.4)" fill="#ffffff" stroke="#6a6a6a" stroke-width="0.76"/><ellipse cx="63.4" cy="16.1" rx="2.0" ry="1.2" transform="rotate(93 63.4 16.1)" fill="#ffffff" stroke="#5a5a5a" stroke-width="0.53"/><ellipse cx="28.2" cy="18.6" rx="1.5" ry="1.2" transform="rotate(134 28.2 18.6)" fill="#b8b8b8" stroke="#6a6a6a" stroke-width="0.50"/><ellipse cx="57.9" cy="22.8" rx="2.3" ry="1.3" transform="rotate(154 57.9 22.8)" fill="#8c8c8c" stroke="#808080" stroke-width="0.61"/><ellipse cx="9.3" cy="23.8" rx="1.9" ry="1.4" transform="rotate(47 9.3 23.8)" fill="#ffffff" stroke="#6a6a6a" stroke-width="0.62"/><ellipse cx="4.6" cy="11.3" rx="1.8" ry="1.2" transform="rotate(50 4.6 11.3)" fill="#dcdcdc" stroke="#4a4a4a" stroke-width="0.56"/><ellipse cx="58.4" cy="10.2" rx="2.4" ry="1.6" transform="rotate(134 58.4 10.2)" fill="#ffffff" stroke="#6a6a6a" stroke-width="0.64"/><ellipse cx="19.5" cy="26.3" rx="1.8" ry="1.4" transform="rotate(162 19.5 26.3)" fill="#f0f0f0" stroke="#3a3a3a" stroke-width="0.77"/><ellipse cx="69.3" cy="7.7" rx="1.9" ry="1.4" transform="rotate(54 69.3 7.7)" fill="#f0f0f0" stroke="#5a5a5a" stroke-width="0.52"/><ellipse cx="2.7" cy="9.4" rx="1.9" ry="1.2" transform="rotate(147 2.7 9.4)" fill="#8c8c8c" stroke="#4a4a4a" stroke-width="0.64"/><ellipse cx="46.8" cy="29.5" rx="1.8" ry="1.3" transform="rotate(170 46.8 29.5)" fill="#8c8c8c" stroke="#3a3a3a" stroke-width="0.51"/><ellipse cx="41.3" cy="18.6" rx="1.4" ry="0.8" transform="rotate(84 41.3 18.6)" fill="#dcdcdc" stroke="#6a6a6a" stroke-width="0.79"/><ellipse cx="29.3" cy="24.7" rx="2.3" ry="1.4" transform="rotate(89 29.3 24.7)" fill="#ffffff" stroke="#6a6a6a" stroke-width="0.54"/><ellipse cx="14.6" cy="6.3" rx="2.3" ry="1.4" transform="rotate(0 14.6 6.3)" fill="#dcdcdc" stroke="#808080" stroke-width="0.50"/><ellipse cx="41.6" cy="26.2" rx="2.4" ry="1.4" transform="rotate(148 41.6 26.2)" fill="#f0f0f0" stroke="#5a5a5a" stroke-width="0.60"/><ellipse cx="67.4" cy="9.0" rx="2.4" ry="1.7" transform="rotate(124 67.4 9.0)" fill="#ffffff" stroke="#4a4a4a" stroke-width="0.55"/><ellipse cx="47.2" cy="14.7" rx="2.1" ry="1.4" transform="rotate(51 47.2 14.7)" fill="#dcdcdc" stroke="#808080" stroke-width="0.57"/><ellipse cx="18.9" cy="9.4" rx="1.6" ry="1.1" transform="rotate(23 18.9 9.4)" fill="#ffffff" stroke="#3a3a3a" stroke-width="0.75"/><ellipse cx="67.3" cy="8.9" rx="2.6" ry="1.7" transform="rotate(122 67.3 8.9)" fill="#ffffff" stroke="#3a3a3a" stroke-width="0.69"/><ellipse cx="31.4" cy="14.4" rx="1.8" ry="1.2" transform="rotate(133 31.4 14.4)" fill="#f0f0f0" stroke="#6a6a6a" stroke-width="0.71"/><ellipse cx="19.1" cy="21.9" rx="1.8" ry="1.1" transform="rotate(137 19.1 21.9)" fill="#ffffff" stroke="#808080" stroke-width="0.67"/><ellipse cx="32.0" cy="21.6" rx="2.2" ry="1.7" transform="rotate(144 32.0 21.6)" fill="#ffffff" stroke="#4a4a4a" stroke-width="0.61"/><ellipse cx="50.9" cy="6.4" rx="1.6" ry="0.9" transform="rotate(105 50.9 6.4)" fill="#f0f0f0" stroke="#4a4a4a" stroke-width="0.71"/><ellipse cx="31.9" cy="19.2" rx="1.9" ry="1.5" transform="rotate(178 31.9 19.2)" fill="#ffffff" stroke="#3a3a3a" stroke-width="0.71"/><ellipse cx="9.0" cy="0.4" rx="1.7" ry="1.3" transform="rotate(179 9.0 0.4)" fill="#dcdcdc" stroke="#3a3a3a" stroke-width="0.60"/><ellipse cx="2.0" cy="16.4" rx="2.0" ry="1.3" transform="rotate(56 2.0 16.4)" fill="#ffffff" stroke="#5a5a5a" stroke-width="0.62"/><ellipse cx="46.9" cy="23.5" rx="2.8" ry="1.8" transform="rotate(125 46.9 23.5)" fill="#f0f0f0" stroke="#808080" stroke-width="0.74"/><ellipse cx="11.2" cy="4.6" rx="1.5" ry="1.1" transform="rotate(45 11.2 4.6)" fill="#dcdcdc" stroke="#6a6a6a" stroke-width="0.54"/><ellipse cx="24.6" cy="-0.4" rx="2.1" ry="1.3" transform="rotate(113 24.6 -0.4)" fill="#f0f0f0" stroke="#5a5a5a" stroke-width="0.57"/><ellipse cx="36.6" cy="10.7" rx="1.7" ry="1.0" transform="rotate(12 36.6 10.7)" fill="#8c8c8c" stroke="#5a5a5a" stroke-width="0.52"/><ellipse cx="13.9" cy="14.5" rx="2.8" ry="1.7" transform="rotate(156 13.9 14.5)" fill="#ffffff" stroke="#6a6a6a" stroke-width="0.62"/><ellipse cx="61.3" cy="11.7" rx="1.4" ry="1.0" transform="rotate(118 61.3 11.7)" fill="#f0f0f0" stroke="#808080" stroke-width="0.58"/><ellipse cx="71.4" cy="26.7" rx="2.8" ry="1.8" transform="rotate(150 71.4 26.7)" fill="#ffffff" stroke="#3a3a3a" stroke-width="0.76"/><ellipse cx="71.8" cy="16.2" rx="2.3" ry="1.4" transform="rotate(4 71.8 16.2)" fill="#f0f0f0" stroke="#808080" stroke-width="0.52"/><ellipse cx="35.4" cy="27.4" rx="1.4" ry="0.9" transform="rotate(138 35.4 27.4)" fill="#ffffff" stroke="#5a5a5a" stroke-width="0.74"/><ellipse cx="55.9" cy="11.8" rx="2.5" ry="1.9" transform="rotate(138 55.9 11.8)" fill="#dcdcdc" stroke="#3a3a3a" stroke-width="0.62"/><ellipse cx="53.6" cy="7.0" rx="2.7" ry="1.5" transform="rotate(104 53.6 7.0)" fill="#f0f0f0" stroke="#4a4a4a" stroke-width="0.62"/><ellipse cx="28.1" cy="20.0" rx="2.5" ry="1.6" transform="rotate(115 28.1 20.0)" fill="#f0f0f0" stroke="#5a5a5a" stroke-width="0.58"/><ellipse cx="68.8" cy="9.3" rx="1.4" ry="0.9" transform="rotate(133 68.8 9.3)" fill="#ffffff" stroke="#4a4a4a" stroke-width="0.72"/><ellipse cx="41.5" cy="20.8" rx="1.6" ry="0.9" transform="rotate(26 41.5 20.8)" fill="#ffffff" stroke="#5a5a5a" stroke-width="0.63"/><ellipse cx="0.7" cy="15.1" rx="1.9" ry="1.2" transform="rotate(97 0.7 15.1)" fill="#ffffff" stroke="#4a4a4a" stroke-width="0.76"/><ellipse cx="24.4" cy="23.1" rx="1.5" ry="1.2" transform="rotate(77 24.4 23.1)" fill="#dcdcdc" stroke="#4a4a4a" stroke-width="0.62"/><ellipse cx="53.7" cy="4.7" rx="1.7" ry="1.2" transform="rotate(171 53.7 4.7)" fill="#ffffff" stroke="#5a5a5a" stroke-width="0.73"/><ellipse cx="39.9" cy="-0.7" rx="2.4" ry="1.7" transform="rotate(164 39.9 -0.7)" fill="#ffffff" stroke="#3a3a3a" stroke-width="0.68"/><ellipse cx="26.2" cy="13.1" rx="2.4" ry="1.6" transform="rotate(174 26.2 13.1)" fill="#ffffff" stroke="#3a3a3a" stroke-width="0.75"/><ellipse cx="52.4" cy="13.5" rx="2.3" ry="1.5" transform="rotate(69 52.4 13.5)" fill="#dcdcdc" stroke="#4a4a4a" stroke-width="0.68"/><ellipse cx="43.5" cy="15.5" rx="1.3" ry="1.0" transform="rotate(80 43.5 15.5)" fill="#ffffff" stroke="#808080" stroke-width="0.68"/><ellipse cx="70.8" cy="3.9" rx="2.0" ry="1.6" transform="rotate(133 70.8 3.9)" fill="#ffffff" stroke="#5a5a5a" stroke-width="0.72"/><ellipse cx="75.2" cy="11.9" rx="2.6" ry="1.5" transform="rotate(178 75.2 11.9)" fill="#ffffff" stroke="#6a6a6a" stroke-width="0.57"/><ellipse cx="63.9" cy="19.8" rx="2.7" ry="2.0" transform="rotate(144 63.9 19.8)" fill="#f0f0f0" stroke="#808080" stroke-width="0.80"/><ellipse cx="4.9" cy="26.8" rx="2.4" ry="1.5" transform="rotate(145 4.9 26.8)" fill="#ffffff" stroke="#6a6a6a" stroke-width="0.66"/><ellipse cx="65.8" cy="5.3" rx="1.7" ry="1.2" transform="rotate(13 65.8 5.3)" fill="#dcdcdc" stroke="#808080" stroke-width="0.74"/><ellipse cx="37.3" cy="6.7" rx="2.5" ry="1.9" transform="rotate(139 37.3 6.7)" fill="#ffffff" stroke="#808080" stroke-width="0.74"/><ellipse cx="11.5" cy="10.7" rx="1.5" ry="0.8" transform="rotate(62 11.5 10.7)" fill="#f0f0f0" stroke="#4a4a4a" stroke-width="0.54"/><ellipse cx="13.8" cy="11.4" rx="2.6" ry="1.8" transform="rotate(162 13.8 11.4)" fill="#ffffff" stroke="#3a3a3a" stroke-width="0.80"/><ellipse cx="15.7" cy="19.1" rx="2.6" ry="1.9" transform="rotate(35 15.7 19.1)" fill="#dcdcdc" stroke="#6a6a6a" stroke-width="0.50"/><ellipse cx="25.8" cy="9.1" rx="2.2" ry="1.4" transform="rotate(109 25.8 9.1)" fill="#ffffff" stroke="#4a4a4a" stroke-width="0.73"/><ellipse cx="13.0" cy="17.6" rx="1.4" ry="0.8" transform="rotate(47 13.0 17.6)" fill="#b8b8b8" stroke="#5a5a5a" stroke-width="0.69"/><ellipse cx="23.4" cy="-0.7" rx="1.4" ry="0.8" transform="rotate(129 23.4 -0.7)" fill="#dcdcdc" stroke="#5a5a5a" stroke-width="0.56"/><ellipse cx="5.4" cy="7.5" rx="1.9" ry="1.3" transform="rotate(50 5.4 7.5)" fill="#b8b8b8" stroke="#4a4a4a" stroke-width="0.54"/><ellipse cx="7.2" cy="15.4" rx="1.9" ry="1.3" transform="rotate(21 7.2 15.4)" fill="#f0f0f0" stroke="#3a3a3a" stroke-width="0.79"/><ellipse cx="5.9" cy="19.7" rx="1.6" ry="1.1" transform="rotate(36 5.9 19.7)" fill="#b8b8b8" stroke="#6a6a6a" stroke-width="0.57"/><ellipse cx="48.6" cy="10.7" rx="1.8" ry="1.3" transform="rotate(119 48.6 10.7)" fill="#f0f0f0" stroke="#5a5a5a" stroke-width="0.70"/><ellipse cx="1.0" cy="18.5" rx="1.3" ry="0.9" transform="rotate(107 1.0 18.5)" fill="#dcdcdc" stroke="#5a5a5a" stroke-width="0.63"/><ellipse cx="26.0" cy="25.3" rx="2.6" ry="1.8" transform="rotate(98 26.0 25.3)" fill="#dcdcdc" stroke="#3a3a3a" stroke-width="0.77"/><ellipse cx="6.7" cy="10.6" rx="1.9" ry="1.4" transform="rotate(120 6.7 10.6)" fill="#ffffff" stroke="#5a5a5a" stroke-width="0.70"/><ellipse cx="11.8" cy="1.3" rx="1.6" ry="1.1" transform="rotate(86 11.8 1.3)" fill="#ffffff" stroke="#808080" stroke-width="0.79"/><ellipse cx="74.2" cy="30.8" rx="1.9" ry="1.4" transform="rotate(117 74.2 30.8)" fill="#ffffff" stroke="#3a3a3a" stroke-width="0.52"/><ellipse cx="35.1" cy="11.8" rx="2.3" ry="1.4" transform="rotate(178 35.1 11.8)" fill="#dcdcdc" stroke="#4a4a4a" stroke-width="0.61"/><ellipse cx="10.9" cy="11.6" rx="2.4" ry="1.4" transform="rotate(30 10.9 11.6)" fill="#8c8c8c" stroke="#808080" stroke-width="0.77"/><ellipse cx="50.4" cy="30.0" rx="2.0" ry="1.6" transform="rotate(78 50.4 30.0)" fill="#ffffff" stroke="#4a4a4a" stroke-width="0.61"/><ellipse cx="27.8" cy="25.6" rx="2.6" ry="1.5" transform="rotate(74 27.8 25.6)" fill="#b8b8b8" stroke="#808080" stroke-width="0.79"/><ellipse cx="59.0" cy="2.0" rx="2.8" ry="1.9" transform="rotate(12 59.0 2.0)" fill="#ffffff" stroke="#4a4a4a" stroke-width="0.70"/><ellipse cx="38.7" cy="8.9" rx="1.8" ry="1.1" transform="rotate(106 38.7 8.9)" fill="#ffffff" stroke="#6a6a6a" stroke-width="0.80"/><ellipse cx="44.8" cy="4.4" rx="1.5" ry="0.9" transform="rotate(162 44.8 4.4)" fill="#ffffff" stroke="#808080" stroke-width="0.54"/><ellipse cx="42.9" cy="4.6" rx="2.2" ry="1.8" transform="rotate(128 42.9 4.6)" fill="#dcdcdc" stroke="#3a3a3a" stroke-width="0.75"/><ellipse cx="17.4" cy="24.5" rx="1.5" ry="1.1" transform="rotate(68 17.4 24.5)" fill="#b8b8b8" stroke="#5a5a5a" stroke-width="0.69"/><ellipse cx="30.8" cy="14.8" rx="2.7" ry="1.8" transform="rotate(137 30.8 14.8)" fill="#dcdcdc" stroke="#3a3a3a" stroke-width="0.62"/><ellipse cx="6.0" cy="7.3" rx="1.5" ry="1.1" transform="rotate(59 6.0 7.3)" fill="#ffffff" stroke="#6a6a6a" stroke-width="0.70"/><ellipse cx="67.4" cy="29.3" rx="2.2" ry="1.5" transform="rotate(163 67.4 29.3)" fill="#8c8c8c" stroke="#6a6a6a" stroke-width="0.59"/><ellipse cx="56.2" cy="7.3" rx="1.9" ry="1.2" transform="rotate(86 56.2 7.3)" fill="#8c8c8c" stroke="#5a5a5a" stroke-width="0.63"/><ellipse cx="34.3" cy="0.6" rx="2.6" ry="1.4" transform="rotate(95 34.3 0.6)" fill="#f0f0f0" stroke="#808080" stroke-width="0.62"/><ellipse cx="16.9" cy="2.2" rx="1.9" ry="1.2" transform="rotate(87 16.9 2.2)" fill="#b8b8b8" stroke="#4a4a4a" stroke-width="0.72"/><ellipse cx="37.0" cy="-0.7" rx="1.9" ry="1.5" transform="rotate(1 37.0 -0.7)" fill="#f0f0f0" stroke="#808080" stroke-width="0.79"/><ellipse cx="27.8" cy="18.1" rx="1.9" ry="1.2" transform="rotate(110 27.8 18.1)" fill="#ffffff" stroke="#808080" stroke-width="0.59"/><ellipse cx="37.8" cy="15.5" rx="2.4" ry="1.4" transform="rotate(17 37.8 15.5)" fill="#b8b8b8" stroke="#5a5a5a" stroke-width="0.58"/><ellipse cx="60.5" cy="12.6" rx="2.6" ry="1.7" transform="rotate(51 60.5 12.6)" fill="#ffffff" stroke="#3a3a3a" stroke-width="0.62"/><ellipse cx="17.1" cy="7.0" rx="1.3" ry="0.8" transform="rotate(28 17.1 7.0)" fill="#8c8c8c" stroke="#5a5a5a" stroke-width="0.58"/><ellipse cx="76.0" cy="14.7" rx="1.9" ry="1.1" transform="rotate(25 76.0 14.7)" fill="#8c8c8c" stroke="#5a5a5a" stroke-width="0.72"/><ellipse cx="46.9" cy="20.9" rx="1.6" ry="1.1" transform="rotate(148 46.9 20.9)" fill="#dcdcdc" stroke="#6a6a6a" stroke-width="0.60"/><ellipse cx="47.5" cy="28.2" rx="2.5" ry="1.5" transform="rotate(15 47.5 28.2)" fill="#dcdcdc" stroke="#4a4a4a" stroke-width="0.73"/><ellipse cx="51.5" cy="24.6" rx="2.0" ry="1.5" transform="rotate(131 51.5 24.6)" fill="#f0f0f0" stroke="#3a3a3a" stroke-width="0.70"/><ellipse cx="41.7" cy="2.6" rx="1.5" ry="0.9" transform="rotate(172 41.7 2.6)" fill="#ffffff" stroke="#808080" stroke-width="0.78"/><ellipse cx="16.0" cy="12.3" rx="2.1" ry="1.6" transform="rotate(22 16.0 12.3)" fill="#dcdcdc" stroke="#5a5a5a" stroke-width="0.62"/><ellipse cx="68.1" cy="28.8" rx="1.6" ry="1.2" transform="rotate(89 68.1 28.8)" fill="#8c8c8c" stroke="#6a6a6a" stroke-width="0.74"/><ellipse cx="38.9" cy="14.4" rx="2.1" ry="1.6" transform="rotate(139 38.9 14.4)" fill="#ffffff" stroke="#5a5a5a" stroke-width="0.50"/><ellipse cx="62.6" cy="19.8" rx="1.9" ry="1.4" transform="rotate(123 62.6 19.8)" fill="#b8b8b8" stroke="#6a6a6a" stroke-width="0.68"/><ellipse cx="35.1" cy="23.7" rx="1.5" ry="1.1" transform="rotate(71 35.1 23.7)" fill="#8c8c8c" stroke="#3a3a3a" stroke-width="0.65"/><ellipse cx="48.1" cy="10.2" rx="1.9" ry="1.1" transform="rotate(166 48.1 10.2)" fill="#dcdcdc" stroke="#5a5a5a" stroke-width="0.57"/><ellipse cx="16.2" cy="28.1" rx="1.4" ry="0.8" transform="rotate(74 16.2 28.1)" fill="#dcdcdc" stroke="#808080" stroke-width="0.62"/><ellipse cx="8.9" cy="5.0" rx="2.2" ry="1.6" transform="rotate(90 8.9 5.0)" fill="#ffffff" stroke="#4a4a4a" stroke-width="0.80"/><ellipse cx="26.7" cy="4.1" rx="2.0" ry="1.4" transform="rotate(80 26.7 4.1)" fill="#f0f0f0" stroke="#5a5a5a" stroke-width="0.53"/><ellipse cx="59.6" cy="6.0" rx="1.6" ry="1.1" transform="rotate(110 59.6 6.0)" fill="#ffffff" stroke="#3a3a3a" stroke-width="0.73"/><ellipse cx="44.3" cy="27.8" rx="2.7" ry="1.9" transform="rotate(66 44.3 27.8)" fill="#b8b8b8" stroke="#5a5a5a" stroke-width="0.76"/><ellipse cx="55.2" cy="7.5" rx="1.7" ry="0.9" transform="rotate(97 55.2 7.5)" fill="#8c8c8c" stroke="#5a5a5a" stroke-width="0.59"/><ellipse cx="19.2" cy="3.2" rx="2.0" ry="1.3" transform="rotate(51 19.2 3.2)" fill="#b8b8b8" stroke="#5a5a5a" stroke-width="0.55"/><ellipse cx="29.6" cy="25.3" rx="2.1" ry="1.2" transform="rotate(16 29.6 25.3)" fill="#b8b8b8" stroke="#4a4a4a" stroke-width="0.73"/><ellipse cx="53.4" cy="17.9" rx="2.3" ry="1.4" transform="rotate(77 53.4 17.9)" fill="#8c8c8c" stroke="#5a5a5a" stroke-width="0.74"/><ellipse cx="17.7" cy="13.5" rx="1.9" ry="1.4" transform="rotate(170 17.7 13.5)" fill="#f0f0f0" stroke="#808080" stroke-width="0.67"/><ellipse cx="26.5" cy="6.4" rx="2.7" ry="1.6" transform="rotate(169 26.5 6.4)" fill="#f0f0f0" stroke="#3a3a3a" stroke-width="0.77"/><ellipse cx="7.8" cy="17.1" rx="1.5" ry="1.2" transform="rotate(56 7.8 17.1)" fill="#ffffff" stroke="#4a4a4a" stroke-width="0.78"/><ellipse cx="50.5" cy="3.5" rx="1.9" ry="1.1" transform="rotate(162 50.5 3.5)" fill="#b8b8b8" stroke="#808080" stroke-width="0.52"/><ellipse cx="40.1" cy="4.9" rx="2.1" ry="1.3" transform="rotate(90 40.1 4.9)" fill="#8c8c8c" stroke="#4a4a4a" stroke-width="0.53"/><ellipse cx="10.6" cy="5.2" rx="2.3" ry="1.3" transform="rotate(169 10.6 5.2)" fill="#ffffff" stroke="#808080" stroke-width="0.54"/><ellipse cx="22.8" cy="9.7" rx="2.4" ry="1.8" transform="rotate(176 22.8 9.7)" fill="#dcdcdc" stroke="#4a4a4a" stroke-width="0.78"/><ellipse cx="1.5" cy="14.7" rx="2.2" ry="1.6" transform="rotate(110 1.5 14.7)" fill="#f0f0f0" stroke="#808080" stroke-width="0.78"/><ellipse cx="6.6" cy="15.6" rx="2.7" ry="1.5" transform="rotate(20 6.6 15.6)" fill="#ffffff" stroke="#5a5a5a" stroke-width="0.62"/><ellipse cx="11.3" cy="5.0" rx="2.2" ry="1.7" transform="rotate(138 11.3 5.0)" fill="#ffffff" stroke="#3a3a3a" stroke-width="0.61"/><ellipse cx="72.8" cy="5.9" rx="1.9" ry="1.2" transform="rotate(63 72.8 5.9)" fill="#f0f0f0" stroke="#4a4a4a" stroke-width="0.62"/><ellipse cx="68.3" cy="6.7" rx="1.4" ry="0.9" transform="rotate(130 68.3 6.7)" fill="#8c8c8c" stroke="#808080" stroke-width="0.61"/><ellipse cx="49.5" cy="28.8" rx="1.9" ry="1.2" transform="rotate(38 49.5 28.8)" fill="#dcdcdc" stroke="#6a6a6a" stroke-width="0.57"/><ellipse cx="69.8" cy="4.9" rx="2.3" ry="1.6" transform="rotate(107 69.8 4.9)" fill="#f0f0f0" stroke="#808080" stroke-width="0.67"/><ellipse cx="1.7" cy="8.9" rx="1.4" ry="0.9" transform="rotate(133 1.7 8.9)" fill="#8c8c8c" stroke="#4a4a4a" stroke-width="0.51"/><ellipse cx="18.8" cy="2.0" rx="2.3" ry="1.6" transform="rotate(79 18.8 2.0)" fill="#dcdcdc" stroke="#3a3a3a" stroke-width="0.67"/><ellipse cx="10.5" cy="20.4" rx="1.4" ry="0.8" transform="rotate(150 10.5 20.4)" fill="#dcdcdc" stroke="#4a4a4a" stroke-width="0.74"/><ellipse cx="59.5" cy="9.8" rx="2.5" ry="1.6" transform="rotate(52 59.5 9.8)" fill="#8c8c8c" stroke="#808080" stroke-width="0.52"/><ellipse cx="74.1" cy="28.2" rx="1.4" ry="0.8" transform="rotate(172 74.1 28.2)" fill="#ffffff" stroke="#6a6a6a" stroke-width="0.54"/><ellipse cx="15.6" cy="27.1" rx="2.7" ry="2.1" transform="rotate(62 15.6 27.1)" fill="#ffffff" stroke="#4a4a4a" stroke-width="0.74"/><ellipse cx="24.3" cy="0.4" rx="1.7" ry="1.2" transform="rotate(43 24.3 0.4)" fill="#f0f0f0" stroke="#6a6a6a" stroke-width="0.61"/><ellipse cx="9.1" cy="7.7" rx="2.7" ry="1.5" transform="rotate(33 9.1 7.7)" fill="#8c8c8c" stroke="#5a5a5a" stroke-width="0.51"/><ellipse cx="23.3" cy="4.9" rx="1.5" ry="1.0" transform="rotate(97 23.3 4.9)" fill="#dcdcdc" stroke="#808080" stroke-width="0.73"/><ellipse cx="40.0" cy="29.3" rx="1.4" ry="0.9" transform="rotate(14 40.0 29.3)" fill="#8c8c8c" stroke="#5a5a5a" stroke-width="0.65"/><ellipse cx="12.2" cy="9.6" rx="2.2" ry="1.3" transform="rotate(143 12.2 9.6)" fill="#dcdcdc" stroke="#808080" stroke-width="0.61"/><ellipse cx="75.8" cy="14.6" rx="1.4" ry="0.8" transform="rotate(84 75.8 14.6)" fill="#dcdcdc" stroke="#3a3a3a" stroke-width="0.73"/><ellipse cx="30.4" cy="0.7" rx="1.5" ry="0.9" transform="rotate(133 30.4 0.7)" fill="#ffffff" stroke="#4a4a4a" stroke-width="0.51"/><ellipse cx="32.2" cy="29.8" rx="2.2" ry="1.3" transform="rotate(4 32.2 29.8)" fill="#ffffff" stroke="#5a5a5a" stroke-width="0.55"/><ellipse cx="73.9" cy="9.8" rx="2.6" ry="1.8" transform="rotate(124 73.9 9.8)" fill="#b8b8b8" stroke="#5a5a5a" stroke-width="0.72"/><ellipse cx="12.6" cy="3.6" rx="2.2" ry="1.5" transform="rotate(77 12.6 3.6)" fill="#dcdcdc" stroke="#808080" stroke-width="0.58"/><ellipse cx="72.2" cy="14.7" rx="2.3" ry="1.6" transform="rotate(160 72.2 14.7)" fill="#dcdcdc" stroke="#4a4a4a" stroke-width="0.65"/><ellipse cx="74.8" cy="8.2" rx="1.6" ry="1.1" transform="rotate(42 74.8 8.2)" fill="#dcdcdc" stroke="#808080" stroke-width="0.55"/><ellipse cx="72.0" cy="8.1" rx="1.4" ry="1.0" transform="rotate(62 72.0 8.1)" fill="#ffffff" stroke="#808080" stroke-width="0.65"/><ellipse cx="70.1" cy="15.5" rx="1.9" ry="1.0" transform="rotate(89 70.1 15.5)" fill="#dcdcdc" stroke="#5a5a5a" stroke-width="0.67"/><ellipse cx="48.0" cy="13.8" rx="1.4" ry="1.0" transform="rotate(87 48.0 13.8)" fill="#ffffff" stroke="#4a4a4a" stroke-width="0.58"/><ellipse cx="33.6" cy="1.7" rx="2.5" ry="1.5" transform="rotate(149 33.6 1.7)" fill="#f0f0f0" stroke="#3a3a3a" stroke-width="0.56"/><ellipse cx="48.1" cy="2.3" rx="1.8" ry="1.0" transform="rotate(13 48.1 2.3)" fill="#ffffff" stroke="#6a6a6a" stroke-width="0.59"/><ellipse cx="63.9" cy="15.1" rx="1.8" ry="1.1" transform="rotate(39 63.9 15.1)" fill="#f0f0f0" stroke="#6a6a6a" stroke-width="0.79"/><ellipse cx="69.7" cy="20.9" rx="2.5" ry="1.8" transform="rotate(146 69.7 20.9)" fill="#ffffff" stroke="#4a4a4a" stroke-width="0.74"/><ellipse cx="23.1" cy="6.8" rx="2.7" ry="1.5" transform="rotate(92 23.1 6.8)" fill="#dcdcdc" stroke="#5a5a5a" stroke-width="0.74"/><ellipse cx="46.4" cy="28.2" rx="2.7" ry="1.9" transform="rotate(12 46.4 28.2)" fill="#ffffff" stroke="#4a4a4a" stroke-width="0.58"/><ellipse cx="21.9" cy="11.5" rx="1.7" ry="1.2" transform="rotate(139 21.9 11.5)" fill="#8c8c8c" stroke="#5a5a5a" stroke-width="0.69"/><ellipse cx="9.5" cy="22.3" rx="1.4" ry="1.1" transform="rotate(138 9.5 22.3)" fill="#b8b8b8" stroke="#3a3a3a" stroke-width="0.58"/><ellipse cx="37.5" cy="28.6" rx="1.6" ry="1.2" transform="rotate(7 37.5 28.6)" fill="#dcdcdc" stroke="#4a4a4a" stroke-width="0.74"/><ellipse cx="17.4" cy="19.9" rx="2.5" ry="1.8" transform="rotate(93 17.4 19.9)" fill="#dcdcdc" stroke="#5a5a5a" stroke-width="0.58"/><ellipse cx="14.2" cy="19.7" rx="2.3" ry="1.8" transform="rotate(60 14.2 19.7)" fill="#ffffff" stroke="#3a3a3a" stroke-width="0.59"/><ellipse cx="72.4" cy="18.8" rx="2.7" ry="2.0" transform="rotate(60 72.4 18.8)" fill="#ffffff" stroke="#5a5a5a" stroke-width="0.66"/><ellipse cx="37.1" cy="0.1" rx="2.6" ry="1.8" transform="rotate(85 37.1 0.1)" fill="#ffffff" stroke="#808080" stroke-width="0.59"/><ellipse cx="70.9" cy="10.7" rx="2.0" ry="1.3" transform="rotate(61 70.9 10.7)" fill="#f0f0f0" stroke="#5a5a5a" stroke-width="0.66"/><ellipse cx="72.1" cy="19.5" rx="1.9" ry="1.3" transform="rotate(42 72.1 19.5)" fill="#ffffff" stroke="#6a6a6a" stroke-width="0.54"/><ellipse cx="32.9" cy="20.9" rx="2.4" ry="1.7" transform="rotate(115 32.9 20.9)" fill="#f0f0f0" stroke="#808080" stroke-width="0.68"/><ellipse cx="31.9" cy="-0.6" rx="1.4" ry="0.9" transform="rotate(178 31.9 -0.6)" fill="#ffffff" stroke="#808080" stroke-width="0.56"/><ellipse cx="73.6" cy="24.2" rx="2.2" ry="1.7" transform="rotate(48 73.6 24.2)" fill="#8c8c8c" stroke="#3a3a3a" stroke-width="0.52"/><ellipse cx="4.6" cy="30.2" rx="2.7" ry="1.6" transform="rotate(45 4.6 30.2)" fill="#b8b8b8" stroke="#3a3a3a" stroke-width="0.52"/><ellipse cx="20.5" cy="21.2" rx="2.0" ry="1.1" transform="rotate(77 20.5 21.2)" fill="#8c8c8c" stroke="#808080" stroke-width="0.57"/><ellipse cx="61.9" cy="6.7" rx="2.6" ry="1.7" transform="rotate(16 61.9 6.7)" fill="#ffffff" stroke="#808080" stroke-width="0.57"/><ellipse cx="43.3" cy="11.9" rx="1.9" ry="1.4" transform="rotate(131 43.3 11.9)" fill="#ffffff" stroke="#808080" stroke-width="0.56"/><ellipse cx="18.6" cy="22.7" rx="2.8" ry="2.1" transform="rotate(167 18.6 22.7)" fill="#f0f0f0" stroke="#3a3a3a" stroke-width="0.59"/><ellipse cx="16.8" cy="26.7" rx="2.1" ry="1.3" transform="rotate(72 16.8 26.7)" fill="#f0f0f0" stroke="#4a4a4a" stroke-width="0.51"/><ellipse cx="7.0" cy="7.6" rx="1.6" ry="1.2" transform="rotate(37 7.0 7.6)" fill="#f0f0f0" stroke="#6a6a6a" stroke-width="0.56"/><ellipse cx="1.8" cy="26.9" rx="2.2" ry="1.3" transform="rotate(132 1.8 26.9)" fill="#dcdcdc" stroke="#808080" stroke-width="0.70"/><ellipse cx="51.5" cy="15.1" rx="2.5" ry="2.0" transform="rotate(159 51.5 15.1)" fill="#8c8c8c" stroke="#3a3a3a" stroke-width="0.57"/><ellipse cx="17.4" cy="18.3" rx="2.2" ry="1.8" transform="rotate(82 17.4 18.3)" fill="#8c8c8c" stroke="#4a4a4a" stroke-width="0.59"/><ellipse cx="45.7" cy="1.7" rx="2.2" ry="1.6" transform="rotate(101 45.7 1.7)" fill="#ffffff" stroke="#6a6a6a" stroke-width="0.75"/><ellipse cx="26.2" cy="12.7" rx="1.4" ry="0.9" transform="rotate(155 26.2 12.7)" fill="#ffffff" stroke="#5a5a5a" stroke-width="0.72"/><ellipse cx="33.0" cy="14.9" rx="1.4" ry="0.8" transform="rotate(117 33.0 14.9)" fill="#b8b8b8" stroke="#3a3a3a" stroke-width="0.79"/><ellipse cx="54.1" cy="9.9" rx="1.8" ry="1.2" transform="rotate(46 54.1 9.9)" fill="#dcdcdc" stroke="#808080" stroke-width="0.66"/><ellipse cx="75.0" cy="3.4" rx="2.5" ry="1.6" transform="rotate(131 75.0 3.4)" fill="#f0f0f0" stroke="#3a3a3a" stroke-width="0.73"/><ellipse cx="26.1" cy="29.5" rx="1.8" ry="1.4" transform="rotate(143 26.1 29.5)" fill="#8c8c8c" stroke="#6a6a6a" stroke-width="0.65"/><ellipse cx="68.9" cy="30.0" rx="2.3" ry="1.3" transform="rotate(9 68.9 30.0)" fill="#b8b8b8" stroke="#6a6a6a" stroke-width="0.67"/><ellipse cx="33.4" cy="-0.3" rx="1.7" ry="1.1" transform="rotate(9 33.4 -0.3)" fill="#f0f0f0" stroke="#3a3a3a" stroke-width="0.66"/><ellipse cx="12.8" cy="10.6" rx="1.6" ry="1.2" transform="rotate(26 12.8 10.6)" fill="#b8b8b8" stroke="#808080" stroke-width="0.65"/><ellipse cx="41.0" cy="11.7" rx="1.9" ry="1.4" transform="rotate(113 41.0 11.7)" fill="#ffffff" stroke="#808080" stroke-width="0.56"/><ellipse cx="1.9" cy="28.1" rx="2.3" ry="1.3" transform="rotate(34 1.9 28.1)" fill="#dcdcdc" stroke="#3a3a3a" stroke-width="0.52"/><ellipse cx="44.3" cy="20.3" rx="1.7" ry="1.1" transform="rotate(112 44.3 20.3)" fill="#8c8c8c" stroke="#5a5a5a" stroke-width="0.60"/><ellipse cx="61.7" cy="27.9" rx="2.6" ry="1.9" transform="rotate(5 61.7 27.9)" fill="#f0f0f0" stroke="#808080" stroke-width="0.68"/><ellipse cx="75.0" cy="6.1" rx="1.6" ry="1.2" transform="rotate(27 75.0 6.1)" fill="#dcdcdc" stroke="#5a5a5a" stroke-width="0.77"/><path d="M37.5 26 C36.5 20 35 16 31 12 C27 9 22 8 16 9 M36 17 C34 11 33 6 30 1 M38.5 24 C40 18 43 13 48 10 C52 7 57 6 62 6 M45 12 C46 8 46 4 45 0 M52 9 C58 11 64 13 70 13" fill="none" stroke="#fff" stroke-width="1.3"/></g>
<path d="M38.5 61 L38 40 C38 33 38.5 28 39 25" fill="none" stroke="#3a3a3a" stroke-width="1.4"/>
<path d="M39 26 C40 24 42 24 43 26 L43 61 L39 61 Z" fill="#909090"/>
<path d="M43 25 L43 61" stroke="#3f3f3f" stroke-width="1.5"/>
<path d="M32 31 C35 40 38 50 42 61" fill="none" stroke="#555" stroke-width="0.9"/>
<path d="M44.5 30 C46 38 49 48 53 61" fill="none" stroke="#555" stroke-width="0.9"/>
<path d="M47 61 C46.5 52 47.5 42 50 36 C51.5 33 53.5 32 56 32.5 C59.5 33.5 61 37 61.5 43 C62 50 62.2 56 62.2 61 Z" fill="#d0d0d0" stroke="#555" stroke-width="0.8"/>
<path d="M56 33 C59.5 35 61 40 61.5 46 C62 52 62.2 57 62.2 61 L57.5 61 C58 52 57.8 43 56 33 Z" fill="#505050"/>
<path d="M50 40 C51 46 52 53 52.5 61 M53.5 38 C54 45 55 53 55.5 61" fill="none" stroke="#888" stroke-width="0.6"/>
<ellipse cx="55.2" cy="29.5" rx="3" ry="2.8" fill="#ddd" stroke="#555" stroke-width="0.8"/>
<path d="M46 38 C48 40 50 42 53 43" fill="none" stroke="#555" stroke-width="0.8"/>
<path d="M11 61 C10.5 57 11 53 12.5 51.5 C14 53 14.5 57 14 61 Z" fill="#777"/>
<path d="M15 61 C15 59 16 57 17.5 56.5 C18.5 58 18.5 60 18 61 Z" fill="#8a8a8a"/>
<path d="M9 60 L21 60" stroke="#777" stroke-width="0.8"/>
<path d="M26 52.5 C25 50.5 26.5 49 28.5 49.5 C30.5 50.2 30 53 28 53.2 C27 53.3 26.6 52.6 27 52" fill="none" stroke="#666" stroke-width="0.9"/>
<path d="M1 61.8 C12 61 22 62.6 34 61.6 C46 61 60 62.4 75 61.6" fill="none" stroke="#555" stroke-width="1.3"/>
<path d="M6 63.2 L30 63.2 M44 63.4 L70 63.2" stroke="#bbb" stroke-width="0.6"/>
</svg>
<div id="els" class="abs">ELSEVIER</div>
<span class="jt" style="left:278.01px;top:32.14px;transform:scaleX(1.0950)">Materials</span>
<span class="jt" style="left:405.30px;top:32.14px;transform:scaleX(1.0228)">Today</span>
<span class="jt" style="left:487.48px;top:32.14px;transform:scaleX(1.0081)">Bio</span>
<span class="vol lk" style="left:286.20px;top:71.06px;transform:scaleX(1.0268)">Volume</span>
<span class="vol lk" style="left:347.40px;top:71.06px;transform:scaleX(0.7934)">33</span>
<span class="vol" style="left:361.97px;top:71.06px;transform:scaleX(0.8333)">,</span>
<span class="vol" style="left:370.00px;top:71.06px;transform:scaleX(1.0126)">August</span>
<span class="vol" style="left:426.30px;top:71.06px;transform:scaleX(0.9320)">2025,</span>
<span class="vol" style="left:467.44px;top:71.06px;transform:scaleX(0.9563)">102042</span>
<svg id="cover" width="79" height="111" viewBox="0 0 79 111">
<defs>
<radialGradient id="cg" cx="0.58" cy="0.42" r="0.75" fx="0.62" fy="0.4">
<stop offset="0" stop-color="#f1f3dc"/><stop offset="0.45" stop-color="#e8eac0"/><stop offset="0.8" stop-color="#dcdf9f"/><stop offset="1" stop-color="#d3d68a"/></radialGradient>
<radialGradient id="dg" cx="0.5" cy="0.45" r="0.55"><stop offset="0" stop-color="#e3efcc"/><stop offset="0.75" stop-color="#d6e8b8"/><stop offset="1" stop-color="#c8dea3"/></radialGradient><filter id="bl" x="-20%" y="-20%" width="140%" height="140%"><feGaussianBlur stdDeviation="0.55"/></filter>
</defs>
<rect x="0.5" y="0.5" width="78" height="109.5" fill="url(#cg)" stroke="#b9b9c9" stroke-width="1"/>
<circle cx="40" cy="60" r="28" fill="#f4f6e6" opacity="0.55"/>
<circle cx="40" cy="60" r="25.5" fill="none" stroke="#e2e6d6" stroke-width="0.5" stroke-dasharray="1.5 1"/>
<circle cx="40.5" cy="60.5" r="29" fill="none" stroke="#e3e6d2" stroke-width="0.5" stroke-dasharray="2 1.5"/>
<circle cx="40" cy="60" r="21" fill="url(#dg)" stroke="#c5d9a4" stroke-width="0.6"/>
<g fill="#9aba6c" filter="url(#bl)"><circle cx="26.4" cy="52.2" r="2.6"/><circle cx="46.6" cy="48.9" r="3"/><circle cx="40.5" cy="59" r="2.6"/><circle cx="52.6" cy="63.7" r="3"/><circle cx="27.3" cy="66.1" r="2.7"/><circle cx="43.9" cy="73.8" r="2.6"/></g>
<rect x="6.8" y="1.3" width="29.3" height="32.3" fill="#060606"/>
<g fill="#e6e6e6"><rect x="8.6" y="5.6" width="4.8" height="1.2"/><rect x="8.6" y="7.9" width="4.8" height="1.2"/><rect x="8.6" y="10.2" width="3.6" height="1.2"/></g>
<text x="8.5" y="20.9" font-family="DejaVu Sans Condensed, DejaVu Sans, sans-serif" font-weight="bold" font-size="8.6" textLength="26.1" lengthAdjust="spacingAndGlyphs" fill="#e4e4e4" style="text-rendering:geometricPrecision">MATERIALS</text>
<text x="8.5" y="27.3" font-family="DejaVu Sans Condensed, DejaVu Sans, sans-serif" font-size="6.7" textLength="13.8" lengthAdjust="spacingAndGlyphs" fill="#a0a0a0">TODAY</text>
<rect x="8.5" y="29.2" width="26.1" height="0.6" fill="#6a6a6a"/>
<rect x="62.4" y="96.2" width="10.8" height="13.4" fill="#a1b550"/>
<rect x="63.8" y="99.6" width="8" height="6.4" fill="#dde6bd"/>
<rect x="67.3" y="99.6" width="0.8" height="6.4" fill="#b9c98a"/>
</svg>
<div id="sep" class="abs"></div>
<span class="tl" style="left:22.62px;top:152.64px;font-size:47px;transform:scaleX(0.7750)">F</span>
<span class="tl" style="left:42.73px;top:151.80px;font-size:48px;transform:scaleX(0.9746)">e-doped</span>
<span class="tl" style="left:207.05px;top:152.64px;font-size:47px;transform:scaleX(0.8493)">MOF</span>
<span class="tl" style="left:304.31px;top:151.80px;font-size:48px;transform:scaleX(0.9853)">nanoparticles:</span>
<span class="tl" style="left:581.00px;top:151.80px;font-size:48px;transform:scaleX(1.0098)">the</span>
<span class="tl" style="left:652.45px;top:152.64px;font-size:47px;transform:scaleX(0.7478)">LIFR</span>
<span class="tl" style="left:22.04px;top:204.80px;font-size:48px;transform:scaleX(0.9575)">and</span>
<span class="tl" style="left:101.74px;top:205.64px;font-size:47px;transform:scaleX(0.8641)">BMP4</span>
<span class="tl" style="left:219.54px;top:204.80px;font-size:48px;transform:scaleX(0.9638)">dual-signaling</span>
<span class="tl" style="left:497.40px;top:204.80px;font-size:48px;transform:scaleX(0.9671)">pathways</span>
<span class="tl" style="left:22.34px;top:257.80px;font-size:48px;transform:scaleX(0.9557)">activated</span>
<span class="tl" style="left:201.60px;top:257.80px;font-size:48px;transform:scaleX(0.9656)">regulator</span>
<span class="tl" style="left:381.18px;top:257.80px;font-size:48px;transform:scaleX(0.9184)">for</span>
<span class="tl" style="left:444.39px;top:257.80px;font-size:48px;transform:scaleX(0.9109)">in</span>
<span class="tl" style="left:492.60px;top:257.80px;font-size:48px;transform:scaleX(0.9336)">vitro</span>
<span class="tl" style="left:588.53px;top:257.80px;font-size:48px;transform:scaleX(0.9653)">expansion</span>
<span class="tl" style="left:22.56px;top:310.80px;font-size:48px;transform:scaleX(0.9359)">of</span>
<span class="tl" style="left:70.13px;top:310.80px;font-size:48px;transform:scaleX(0.9747)">mouse</span>
<span class="tl" style="left:203.24px;top:310.80px;font-size:48px;transform:scaleX(0.9647)">embryonic</span>
<span class="tl" style="left:412.22px;top:310.80px;font-size:48px;transform:scaleX(0.9774)">stem</span>
<span class="tl" style="left:513.27px;top:310.80px;font-size:48px;transform:scaleX(0.9252)">cells</span>
<span class="an" style="left:21.70px;top:392.76px;letter-spacing:0.387px">Youyuan Li</span>
<span class="sp" style="left:119.40px;top:390.69px">a</span>
<i class="ul" style="left:21.4px;top:413.6px;width:104.4px"></i>
<span class="an" style="left:126.40px;top:392.76px">,</span>
<span class="an" style="left:136.90px;top:392.76px;letter-spacing:0.578px">Hong Wang</span>
<span class="sp" style="left:241.90px;top:390.69px">a</span>
<i class="ul" style="left:136.5px;top:413.6px;width:112.9px"></i>
<span class="an" style="left:249.90px;top:392.76px">,</span>
<span class="an" style="left:259.70px;top:392.76px;letter-spacing:0.284px">Zhilei Li</span>
<span class="sp" style="left:329.00px;top:390.69px">a</span>
<i class="ul" style="left:258.7px;top:413.6px;width:79.3px"></i>
<span class="an" style="left:337.60px;top:392.76px">,</span>
<span class="an" style="left:347.60px;top:392.76px;letter-spacing:0.738px">Huichao Wang</span>
<span class="sp" style="left:478.20px;top:390.69px">a</span>
<i class="ul" style="left:347.1px;top:413.6px;width:137.9px"></i>
<span class="an" style="left:485.90px;top:392.76px">,</span>
<span class="an" style="left:497.10px;top:392.76px;letter-spacing:-0.290px">Yi Gao</span>
<span class="sp" style="left:556.00px;top:390.69px">a</span>
<i class="ul" style="left:496.0px;top:413.6px;width:67.0px"></i>
<span class="an" style="left:563.70px;top:392.76px">,</span>
<span class="an" style="left:574.70px;top:392.76px;letter-spacing:0.310px">Chaoran Wu</span>
<span class="sp" style="left:684.90px;top:390.69px">a</span>
<i class="ul" style="left:572.9px;top:413.6px;width:118.4px"></i>
<span class="an" style="left:691.00px;top:392.76px">,</span>
<span class="an" style="left:21.90px;top:422.76px;letter-spacing:0.465px">Bangguo Wei</span>
<span class="sp" style="left:139.00px;top:420.69px">a</span>
<i class="ul" style="left:21.4px;top:443.9px;width:125.7px"></i>
<span class="an" style="left:147.30px;top:422.76px">,</span>
<span class="an" style="left:157.60px;top:422.76px;letter-spacing:0.274px">Zhanyun Guo</span>
<span class="sp" style="left:276.20px;top:420.69px">a</span>
<i class="ul" style="left:156.6px;top:443.9px;width:125.7px"></i>
<span class="an" style="left:283.40px;top:422.76px">,</span>
<span class="an" style="left:293.40px;top:422.76px;letter-spacing:0.549px">Xijin Wang</span>
<span class="sp" style="left:389.50px;top:420.69px">b</span>
<i class="ul" style="left:293.0px;top:443.9px;width:155.9px"></i>
<span class="an" style="left:449.90px;top:422.76px">,</span>
<svg class="ic" style="left:402.7px;top:421.0px" width="18" height="18" viewBox="0 0 18 18"><ellipse cx="8.5" cy="3.95" rx="3.8" ry="4.2" fill="none" stroke="#333" stroke-width="1.55"/><path d="M0.9 16.4 C1.2 13.2 4.2 11 8.5 11 C12.8 11 15.8 13.2 16.1 16.4" fill="none" stroke="#333" stroke-width="1.6" stroke-linecap="round"/></svg>
<svg class="ic" style="left:428.6px;top:421.0px" width="18" height="18" viewBox="0 0 18 18"><rect x="0.6" y="2.5" width="15" height="10.7" fill="none" stroke="#2a2a2a" stroke-width="1.45"/><path d="M0.8 2.8 C4 5 6 7.2 7.8 7.3 C9.6 7.2 11.6 5 14.8 2.8 M1.1 12.9 L5.2 8.2 M14.4 12.9 L10.3 8.2" fill="none" stroke="#333" stroke-width="1.3"/></svg>
<span class="an" style="left:460.70px;top:422.76px;letter-spacing:-0.044px">Guoxin Jing</span>
<span class="sp" style="left:560.70px;top:420.69px">a</span>
<i class="ul" style="left:458.9px;top:443.9px;width:162.8px"></i>
<span class="an" style="left:621.60px;top:422.76px">,</span>
<svg class="ic" style="left:575.4px;top:421.0px" width="18" height="18" viewBox="0 0 18 18"><ellipse cx="8.5" cy="3.95" rx="3.8" ry="4.2" fill="none" stroke="#333" stroke-width="1.55"/><path d="M0.9 16.4 C1.2 13.2 4.2 11 8.5 11 C12.8 11 15.8 13.2 16.1 16.4" fill="none" stroke="#333" stroke-width="1.6" stroke-linecap="round"/></svg>
<svg class="ic" style="left:601.1px;top:421.0px" width="18" height="18" viewBox="0 0 18 18"><rect x="0.6" y="2.5" width="15" height="10.7" fill="none" stroke="#2a2a2a" stroke-width="1.45"/><path d="M0.8 2.8 C4 5 6 7.2 7.8 7.3 C9.6 7.2 11.6 5 14.8 2.8 M1.1 12.9 L5.2 8.2 M14.4 12.9 L10.3 8.2" fill="none" stroke="#333" stroke-width="1.3"/></svg>
<span class="an" style="left:22.10px;top:452.76px;letter-spacing:0.492px">Shilong Wang</span>
<span class="sp" style="left:143.90px;top:450.69px">a</span>
<i class="ul" style="left:21.4px;top:473.9px;width:182.9px"></i>
<svg class="ic" style="left:157.9px;top:451.0px" width="18" height="18" viewBox="0 0 18 18"><ellipse cx="8.5" cy="3.95" rx="3.8" ry="4.2" fill="none" stroke="#333" stroke-width="1.55"/><path d="M0.9 16.4 C1.2 13.2 4.2 11 8.5 11 C12.8 11 15.8 13.2 16.1 16.4" fill="none" stroke="#333" stroke-width="1.6" stroke-linecap="round"/></svg>
<svg class="ic" style="left:183.6px;top:451.0px" width="18" height="18" viewBox="0 0 18 18"><rect x="0.6" y="2.5" width="15" height="10.7" fill="none" stroke="#2a2a2a" stroke-width="1.45"/><path d="M0.8 2.8 C4 5 6 7.2 7.8 7.3 C9.6 7.2 11.6 5 14.8 2.8 M1.1 12.9 L5.2 8.2 M14.4 12.9 L10.3 8.2" fill="none" stroke="#333" stroke-width="1.3"/></svg>
</body></html>
